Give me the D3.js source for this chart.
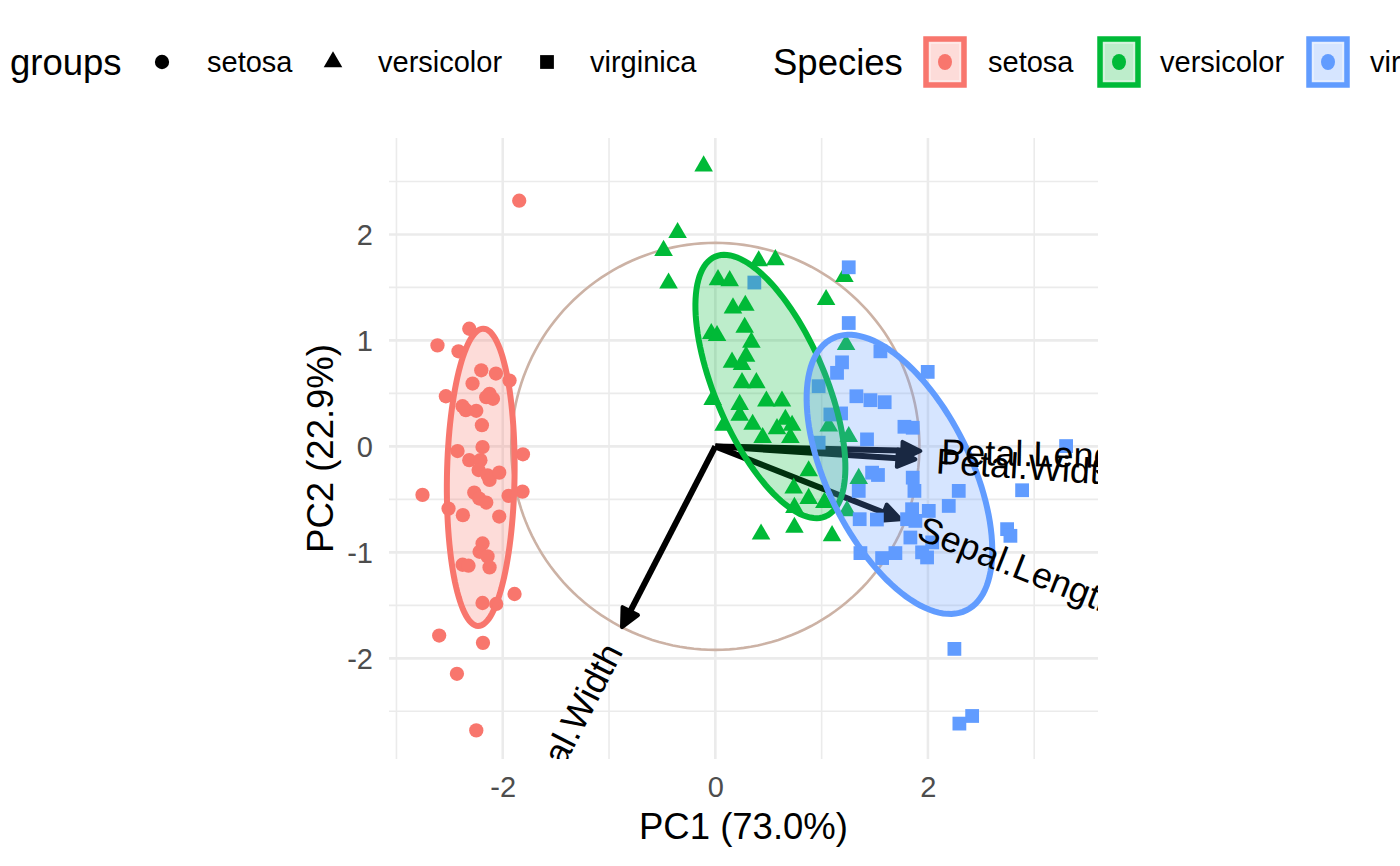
<!DOCTYPE html>
<html>
<head>
<meta charset="utf-8">
<script src="https://cdn.jsdelivr.net/npm/d3@7"></script>
<style>
body { margin: 0; background: #fff; }
text { font-family: "Liberation Sans", Arial, Helvetica, sans-serif; }
</style>
</head>
<body>
<svg id="chart" width="1400" height="866"></svg>
<script>
// PCA scores, one pair of arrays per species
var setosaPC1 = [-1.845,-2.315,-2.614,-2.416,-2.202,-2.064,-2.284,-1.936,-2.535,-2.124,-2.155,-2.092,-2.378,-2.347,-2.249,-2.196,-2.425,-2.19,-1.81,-2.315,-2.21,-2.227,-2.143,-2.124,-2.033,-2.755,-2.268,-2.221,-2.155,-1.945,-1.814,-2.51,-2.375,-2.033,-2.19,-2.218,-2.143,-2.378,-2.322,-2.124,-1.889,-2.19,-2.061,-2.598,-2.186,-2.431,-2.249];
var setosaPC2 = [2.318,1.11,0.953,0.897,0.718,0.687,0.593,0.621,0.473,0.496,0.464,0.449,0.379,0.342,0.336,0.2,-0.044,-0.006,-0.075,-0.13,-0.13,-0.223,-0.273,-0.317,-0.248,-0.458,-0.436,-0.492,-0.53,-0.467,-0.427,-0.587,-0.649,-0.662,-0.916,-0.995,-1.038,-1.117,-1.126,-1.142,-1.393,-1.478,-1.487,-1.785,-1.854,-2.146,-2.68];

var versicolorPC1 = [-0.11,-0.355,-0.487,-0.44,0.025,0.135,0.408,0.565,1.214,1.042,1.23,0.166,0.282,-0.038,0.016,0.276,0.339,0.157,0.289,0.251,0.251,0.386,-0.025,0.48,0.627,0.229,0.229,0.351,0.078,0.659,0.722,0.58,1.067,0.445,0.706,1.255,0.878,1.349,0.737,0.878,1.026,0.744,1.239,0.744,0.43,1.098];
var versicolorPC2 = [2.645,2.017,1.848,1.54,1.572,1.562,1.75,1.76,1.603,1.384,0.96,1.305,1.33,1.064,1.045,1.123,0.982,0.793,0.85,0.772,0.6,0.6,0.442,0.427,0.427,0.395,0.292,0.207,0.198,0.254,0.198,0.166,0.191,0.082,0.082,0.091,-0.232,-0.304,-0.395,-0.492,-0.53,-0.577,-0.608,-0.765,-0.828,-0.844];

var virginicaPC1 = [0.367,1.255,1.255,1.192,1.145,0.972,1.327,1.459,1.183,1.082,1.427,0.972,1.475,1.349,1.358,1.553,1.998,1.593,1.779,1.857,3.30,1.53,1.857,1.873,2.29,2.886,1.851,2.008,2.196,1.804,1.882,2.745,2.776,1.835,2.04,1.365,1.569,1.694,1.945,1.992,2.249,2.416,2.296,1.52];
var virginicaPC2 = [1.546,1.69,1.164,0.793,0.694,0.568,0.473,0.436,0.311,0.301,0.066,0.035,-0.248,-0.42,-0.687,0.897,0.703,0.417,0.185,0.176,0.003,-0.27,-0.295,-0.42,-0.42,-0.414,-0.593,-0.609,-0.562,-0.687,-0.703,-0.781,-0.844,-0.86,-0.906,-1.007,-1.054,-1.007,-1.0,-1.048,-1.911,-2.544,-2.616,-0.69];

var species = ["setosa", "versicolor", "virginica"];

// variable arrows (loadings, already scaled as in the plot)
var varNames = ["Sepal.Length", "Sepal.Width", "Petal.Length", "Petal.Width"];
var varPC1 = [1.741, -0.878, 1.929, 1.882];
var varPC2 = [-0.687, -1.706, -0.044, -0.122];

// normal ellipses per species: centre, semi axes, angle of major axis (deg)
var ellipseCx = [-2.207, 0.518, 1.732];
var ellipseCy = [-0.292, 0.565, -0.264];
var ellipseA = [1.403, 1.331, 1.429];
var ellipseB = [0.318, 0.52, 0.675];
var ellipseAngle = [89, -67.1, -63.9];

var circleRadius = 1.92;

var xTicks = [-2, 0, 2];
var yTicks = [-2, -1, 0, 1, 2];
var xMinor = [-3, -1, 1, 3];
var yMinor = [-2.5, -1.5, -0.5, 0.5, 1.5, 2.5];
var xDomain = [-3.07, 3.6];
var yDomain = [-2.95, 2.91];

var colors = ["#F8766D", "#00BA38", "#619CFF"];
var shapes = [d3.symbolCircle, d3.symbolTriangle, d3.symbolSquare];
var shapeSizes = [160, 150, 190];

var panel = {left: 389, right: 1098, top: 138, bottom: 759};

var svg = d3.select("#chart");

var x = d3.scaleLinear().domain(xDomain).range([panel.left, panel.right]);
var y = d3.scaleLinear().domain(yDomain).range([panel.bottom, panel.top]);

svg.append("clipPath").attr("id", "panelClip")
  .append("rect")
  .attr("x", panel.left).attr("y", panel.top)
  .attr("width", panel.right - panel.left)
  .attr("height", panel.bottom - panel.top);

var grid = svg.append("g");
//minor grid
grid.selectAll(".xminor").data(xMinor).enter().append("line")
  .attr("x1", d => x(d)).attr("x2", d => x(d))
  .attr("y1", panel.top).attr("y2", panel.bottom)
  .attr("stroke", "#ebebeb").attr("stroke-width", 1.6);
grid.selectAll(".yminor").data(yMinor).enter().append("line")
  .attr("y1", d => y(d)).attr("y2", d => y(d))
  .attr("x1", panel.left).attr("x2", panel.right)
  .attr("stroke", "#ebebeb").attr("stroke-width", 1.6);
//major grid
grid.selectAll(".xmajor").data(xTicks).enter().append("line")
  .attr("x1", d => x(d)).attr("x2", d => x(d))
  .attr("y1", panel.top).attr("y2", panel.bottom)
  .attr("stroke", "#ebebeb").attr("stroke-width", 2.6);
grid.selectAll(".ymajor").data(yTicks).enter().append("line")
  .attr("y1", d => y(d)).attr("y2", d => y(d))
  .attr("x1", panel.left).attr("x2", panel.right)
  .attr("stroke", "#ebebeb").attr("stroke-width", 2.6);

// axes, ggplot minimal look: only the labels
var xAxis = d3.axisBottom(x).tickValues(xTicks).tickSize(0).tickPadding(0);
var gx = svg.append("g").attr("transform", "translate(0," + 776 + ")").call(xAxis);
gx.select(".domain").remove();
gx.selectAll("text").attr("font-size", 29).attr("fill", "#4d4d4d").attr("dy", "0.71em")
  .text(d => d < 0 ? "-" + Math.abs(d) : d);

var yAxis = d3.axisLeft(y).tickValues(yTicks).tickSize(0).tickPadding(0);
var gy = svg.append("g").attr("transform", "translate(" + 373 + ",0)").call(yAxis);
gy.select(".domain").remove();
gy.selectAll("text").attr("font-size", 29).attr("fill", "#4d4d4d").attr("dy", "0.35em")
  .text(d => d < 0 ? "-" + Math.abs(d) : d);

svg.append("text").attr("x", (panel.left + panel.right) / 2).attr("y", 826)
  .attr("dy", "0.35em").attr("text-anchor", "middle").attr("font-size", 36.5)
  .text("PC1 (73.0%)");
svg.append("text")
  .attr("transform", "translate(320," + (panel.top + panel.bottom) / 2 + ") rotate(-90)")
  .attr("dy", "0.35em").attr("text-anchor", "middle").attr("font-size", 36.5)
  .text("PC2 (22.9%)");

var plot = svg.append("g").attr("clip-path", "url(#panelClip)");

// correlation circle
var circ = d3.range(0, 361, 2).map(function(t) {
  var r = t * Math.PI / 180;
  return [circleRadius * Math.cos(r), circleRadius * Math.sin(r)];
});
var line = d3.line().x(d => x(d[0])).y(d => y(d[1]));
plot.append("path").attr("d", line(circ))
  .attr("fill", "none").attr("stroke", "#ccb2a5").attr("stroke-width", 2.6);

// arrows
var arrows = plot.append("g");
varNames.forEach(function(name, i) {
  var x0 = x(0), y0 = y(0), x1 = x(varPC1[i]), y1 = y(varPC2[i]);
  var ang = Math.atan2(y1 - y0, x1 - x0);
  var len = 20, spread = Math.PI / 7;
  var b1 = [x1 - len * Math.cos(ang - spread), y1 - len * Math.sin(ang - spread)];
  var b2 = [x1 - len * Math.cos(ang + spread), y1 - len * Math.sin(ang + spread)];
  arrows.append("line").attr("x1", x0).attr("y1", y0)
    .attr("x2", x1 - 10 * Math.cos(ang)).attr("y2", y1 - 10 * Math.sin(ang))
    .attr("stroke", "#000").attr("stroke-width", 6);
  arrows.append("path").attr("d", "M" + b1 + "L" + x1 + "," + y1 + "L" + b2 + "Z")
    .attr("fill", "#000").attr("stroke", "#000").attr("stroke-width", 4)
    .attr("stroke-linejoin", "round");
});

// points
var pc1 = [setosaPC1, versicolorPC1, virginicaPC1];
var pc2 = [setosaPC2, versicolorPC2, virginicaPC2];
species.forEach(function(sp, k) {
  var pts = pc1[k].map(function(v, i) { return [v, pc2[k][i]]; });
  plot.append("g").selectAll("path").data(pts).enter().append("path")
    .attr("d", d3.symbol().type(shapes[k]).size(shapeSizes[k]))
    .attr("transform", d => "translate(" + x(d[0]) + "," + y(d[1]) + ")")
    .attr("fill", colors[k]);
});

// ellipses, fill and outline per species
species.forEach(function(sp, k) {
  var th = ellipseAngle[k] * Math.PI / 180;
  var pts = d3.range(0, 361, 3).map(function(t) {
    var r = t * Math.PI / 180;
    var ex = ellipseA[k] * Math.cos(r), ey = ellipseB[k] * Math.sin(r);
    return [ellipseCx[k] + ex * Math.cos(th) - ey * Math.sin(th),
            ellipseCy[k] + ex * Math.sin(th) + ey * Math.cos(th)];
  });
  plot.append("path").attr("d", line(pts) + "Z")
    .attr("fill", colors[k]).attr("fill-opacity", 0.26)
    .attr("stroke", colors[k]).attr("stroke-width", 6);
});

// variable names
varNames.forEach(function(name, i) {
  var xv = varPC1[i], yv = varPC2[i];
  var a = Math.atan(yv / xv);
  var gap = 21 * Math.sign(xv);
  var ax = x(xv) + gap * Math.cos(a), ay = y(yv) - gap * Math.sin(a);
  plot.append("text")
    .attr("transform", "translate(" + ax + "," + ay + ") rotate(" + (-a * 180 / Math.PI) + ")")
    .attr("text-anchor", xv > 0 ? "start" : "end")
    .attr("dy", "0.35em").attr("font-size", 36)
    .text(name);
});

// legends
var leg = svg.append("g");
leg.append("text").attr("x", 10).attr("y", 62).attr("dy", "0.35em").attr("font-size", 36.5).text("groups");
var shapeKeyX = [162, 333, 547], shapeTextX = [207, 378, 590];
species.forEach(function(sp, k) {
  leg.append("path").attr("d", d3.symbol().type(shapes[k]).size(shapeSizes[k]))
    .attr("transform", "translate(" + shapeKeyX[k] + ",62)").attr("fill", "#000");
  leg.append("text").attr("x", shapeTextX[k]).attr("y", 62).attr("dy", "0.35em")
    .attr("font-size", 29).text(sp);
});
leg.append("text").attr("x", 773).attr("y", 62).attr("dy", "0.35em").attr("font-size", 36.5).text("Species");
var fillKeyX = [945, 1119, 1328], fillTextX = [988, 1160, 1370];
species.forEach(function(sp, k) {
  leg.append("rect").attr("x", fillKeyX[k] - 19).attr("y", 62 - 23).attr("width", 38).attr("height", 46)
    .attr("fill", colors[k]).attr("fill-opacity", 0.26)
    .attr("stroke", colors[k]).attr("stroke-width", 5.5);
  leg.append("rect").attr("x", fillKeyX[k] - 15).attr("y", 62 - 19).attr("width", 30).attr("height", 38)
    .attr("fill", "none").attr("stroke", "#fff").attr("stroke-opacity", 0.45).attr("stroke-width", 1.5);
  leg.append("ellipse").attr("cx", fillKeyX[k]).attr("cy", 62).attr("rx", 7).attr("ry", 8)
    .attr("fill", colors[k]);
  leg.append("text").attr("x", fillTextX[k]).attr("y", 62).attr("dy", "0.35em")
    .attr("font-size", 29).text(sp);
});
</script>
</body>
</html>
